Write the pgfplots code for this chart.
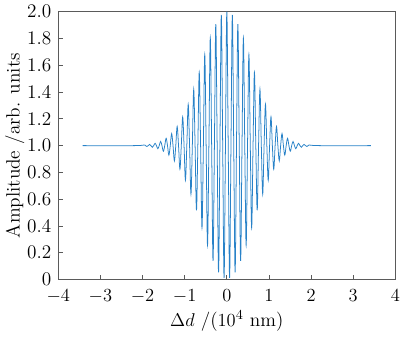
\documentclass[border=0pt]{standalone}
\usepackage{pgfplots}
\pgfplotsset{compat=1.18}
\definecolor{lineblue}{RGB}{40,130,200}
\definecolor{axgray}{RGB}{90,90,90}
\begin{document}
\begin{tikzpicture}
\begin{axis}[
  scale only axis,
  width=219pt, height=174pt,
  xmin=-4, xmax=4, ymin=0, ymax=2,
  xtick={-4,-3,-2,-1,0,1,2,3,4},
  ytick={0,0.2,0.4,0.6,0.8,1.0,1.2,1.4,1.6,1.8,2.0},
  yticklabels={0,0.2,0.4,0.6,0.8,1.0,1.2,1.4,1.6,1.8,2.0},
  tick pos=left,
  tick align=inside,
  major tick length=3pt,
  axis line style={axgray, line width=0.6pt},
  tick style={axgray, line width=0.5pt},
  xlabel={$\Delta d$ /($10^4$ nm)},
  ylabel={Amplitude /arb. units},
  xlabel style={yshift=2pt, font=\fontsize{12.5}{14}\selectfont},
  ylabel style={yshift=-5pt, font=\fontsize{12.5}{14}\selectfont},
  every tick label/.append style={font=\fontsize{12.5}{14}\selectfont},
  xticklabel style={yshift=-3pt},
  yticklabel style={xshift=-1pt},
]
\addplot[lineblue, line width=0.5pt, smooth, tension=0.6] coordinates {
(-3.42,1) (-2.2,1)
(-1.965,1.0045) (-1.9323,1) (-1.8995,0.9936) (-1.8668,1)
(-1.834,1.009) (-1.8013,1) (-1.7685,0.9875) (-1.7358,1)
(-1.703,1.017) (-1.6703,1) (-1.6375,0.977) (-1.6048,1)
(-1.572,1.031) (-1.5393,1) (-1.5065,0.958) (-1.4738,1)
(-1.441,1.055) (-1.4083,1) (-1.3755,0.929) (-1.3428,1)
(-1.31,1.090) (-1.2773,1) (-1.2445,0.886) (-1.2118,1)
(-1.179,1.143) (-1.1463,1) (-1.1135,0.824) (-1.0808,1)
(-1.048,1.215) (-1.0153,1) (-0.9825,0.741) (-0.9498,1)
(-0.917,1.308) (-0.8843,1) (-0.8515,0.638) (-0.8188,1)
(-0.786,1.421) (-0.7533,1) (-0.7205,0.517) (-0.6878,1)
(-0.655,1.548) (-0.6223,1) (-0.5895,0.385) (-0.5568,1)
(-0.524,1.681) (-0.4913,1) (-0.4585,0.255) (-0.4258,1)
(-0.393,1.805) (-0.3603,1) (-0.3275,0.139) (-0.2948,1)
(-0.262,1.908) (-0.2293,1) (-0.1965,0.053) (-0.1638,1)
(-0.131,1.976) (-0.0983,1) (-0.0655,0.012) (-0.0328,1)
(0,2.0)
(0.0328,1) (0.0655,0.012) (0.0983,1) (0.131,1.976)
(0.1638,1) (0.1965,0.053) (0.2293,1) (0.262,1.908)
(0.2948,1) (0.3275,0.139) (0.3603,1) (0.393,1.805)
(0.4258,1) (0.4585,0.255) (0.4913,1) (0.524,1.681)
(0.5568,1) (0.5895,0.385) (0.6223,1) (0.655,1.548)
(0.6878,1) (0.7205,0.517) (0.7533,1) (0.786,1.421)
(0.8188,1) (0.8515,0.638) (0.8843,1) (0.917,1.308)
(0.9498,1) (0.9825,0.741) (1.0153,1) (1.048,1.215)
(1.0808,1) (1.1135,0.824) (1.1463,1) (1.179,1.143)
(1.2118,1) (1.2445,0.886) (1.2773,1) (1.31,1.090)
(1.3428,1) (1.3755,0.929) (1.4083,1) (1.441,1.055)
(1.4738,1) (1.5065,0.958) (1.5393,1) (1.572,1.031)
(1.6048,1) (1.6375,0.977) (1.6703,1) (1.703,1.017)
(1.7358,1) (1.7685,0.9875) (1.8013,1) (1.834,1.009)
(1.8668,1) (1.8995,0.9936) (1.9323,1) (1.965,1.0045)
(2.2,1) (3.42,1)
};
\end{axis}
\end{tikzpicture}
\end{document}
